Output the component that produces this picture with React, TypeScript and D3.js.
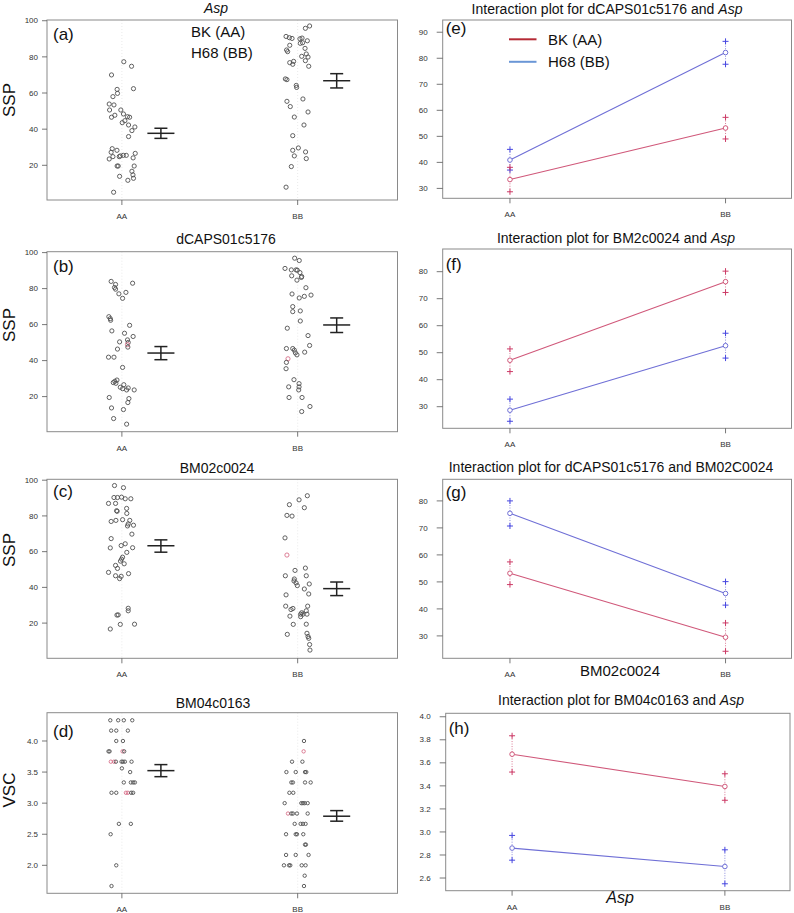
import React from "react";
import * as d3 from "d3";

const categories = ["AA", "BB"];
const legendLabels = ["BK (AA)", "H68 (BB)"];

// ---- strip panels: [value, jitter (category units)] ----
const aAA: [number, number][] = [
  [77.3, 0.011], [74.8, 0.055], [70.0, -0.059], [62.0, -0.027], [62.4, 0.066], [59.8, -0.025],
  [58.0, -0.051], [53.9, -0.072], [53.4, -0.045], [50.6, -0.07], [50.6, -0.006], [47.7, -0.04],
  [46.6, -0.059], [48.4, 0.009], [46.9, 0.032], [46.6, 0.044], [43.6, 0.002], [44.7, 0.017],
  [42.3, 0.038], [41.2, 0.074], [39.2, 0.057], [35.9, 0.038], [29.2, -0.055], [28.3, -0.028],
  [27.2, -0.061], [23.5, -0.072], [24.8, -0.051], [24.8, -0.015], [25.2, -0.009], [25.5, 0.008],
  [25.5, 0.025], [26.6, 0.076], [24.1, 0.064], [19.6, -0.027], [19.6, -0.021], [19.6, 0.07],
  [16.7, 0.057], [14.7, 0.063], [13.9, -0.013], [12.8, 0.066], [11.7, 0.034], [5.1, -0.047],
];
const aBB: [number, number][] = [
  [97.1, 0.068], [95.8, 0.044], [91.3, -0.066], [90.6, -0.047], [90.2, -0.032], [90.0, 0.013],
  [90.4, 0.025], [88.9, 0.055], [83.8, -0.063], [82.9, -0.057], [86.4, -0.045], [87.5, 0.015],
  [87.8, 0.028], [84.7, 0.042], [81.6, 0.049], [80.3, 0.023], [79.9, 0.059], [77.9, 0.044],
  [77.5, -0.023], [76.8, -0.045], [75.9, -0.028], [74.8, 0.063], [67.8, -0.07], [67.4, -0.061],
  [64.2, -0.008], [63.1, -0.006], [56.7, 0.03], [55.4, -0.061], [52.5, -0.042], [49.5, 0.059],
  [46.7, -0.019], [42.3, 0.036], [36.4, -0.028], [28.3, -0.028], [29.6, 0.004], [27.4, 0.045],
  [25.2, -0.019], [23.7, 0.049], [19.3, -0.036], [7.9, -0.066],
];
const aRedAA: number[] = [];
const aRedBB: number[] = [];
const aMean = [37.7, 66.8];
const aLo = [34.9, 62.8];
const aHi = [40.5, 70.7];

const bAA: [number, number][] = [
  [84.0, -0.061], [83.0, 0.061], [82.3, -0.036], [80.6, -0.042], [79.7, -0.036], [77.9, 0.023],
  [77.1, -0.017], [74.6, 0.004], [64.4, -0.074], [63.3, -0.066], [62.4, -0.064], [59.6, 0.044],
  [56.5, -0.057], [55.2, 0.015], [53.4, 0.064], [51.5, 0.032], [50.4, -0.013], [50.1, 0.036],
  [48.9, 0.032], [47.5, 0.034], [46.4, -0.025], [41.9, -0.076], [41.9, -0.045], [36.2, 0.004],
  [29.2, -0.028], [28.5, -0.04], [27.4, -0.034], [27.8, -0.049], [26.6, 0.011], [25.2, -0.009],
  [24.4, 0.004], [24.8, 0.036], [23.7, 0.027], [23.7, 0.07], [18.9, 0.04], [19.5, -0.072],
  [16.7, 0.034], [13.7, -0.059], [12.8, 0.009], [7.8, -0.047], [4.7, 0.027],
];
const bBB: [number, number][] = [
  [96.9, -0.017], [95.6, 0.009], [91.2, -0.072], [90.4, -0.036], [90.4, -0.009], [90.2, -0.002],
  [88.9, 0.013], [87.1, -0.034], [86.7, 0.023], [86.2, 0.021], [84.7, -0.004], [80.5, 0.047],
  [77.0, -0.032], [76.4, 0.076], [75.7, 0.038], [74.8, 0.009], [70.0, -0.028], [67.2, -0.028],
  [67.6, 0.015], [62.0, 0.015], [58.0, -0.059], [53.9, 0.059], [48.4, 0.068], [46.7, -0.064],
  [46.7, -0.028], [45.8, -0.019], [44.7, 0.04], [44.3, -0.013], [43.2, -0.004], [41.0, -0.055],
  [39.0, -0.064], [35.5, -0.066], [29.4, -0.021], [27.2, 0.008], [25.4, -0.051], [25.4, 0.008],
  [23.7, 0.006], [19.5, -0.049], [19.5, 0.025], [14.5, 0.07], [11.7, 0.023],
];
const bRedAA: number[] = [18];
const bRedBB: number[] = [29];
const bMean = [44.2, 59.8];
const bLo = [40.5, 55.6];
const bHi = [47.8, 63.7];

const cAA: [number, number][] = [
  [97.0, -0.042], [95.8, 0.009], [90.3, -0.045], [90.3, -0.025], [90.5, -0.002], [89.6, 0.019],
  [89.6, 0.051], [87.0, -0.076], [87.0, -0.036], [84.2, 0.027], [82.9, -0.03], [82.6, -0.027],
  [81.4, 0.028], [77.9, 0.004], [77.5, -0.034], [76.9, -0.061], [77.5, 0.045], [75.5, 0.036],
  [74.8, 0.066], [74.4, 0.032], [69.8, 0.057], [67.3, -0.061], [64.4, 0.019], [63.4, -0.004],
  [62.1, -0.066], [62.2, 0.061], [59.6, 0.028], [56.9, 0.004], [55.8, -0.002], [54.7, -0.008],
  [53.2, 0.013], [52.3, -0.036], [50.6, -0.025], [48.4, -0.076], [47.7, 0.038], [46.5, -0.036],
  [46.2, -0.004], [44.9, -0.013], [28.3, 0.036], [26.9, 0.036], [24.6, -0.021], [24.5, -0.028],
  [19.3, -0.009], [19.4, 0.072], [16.7, -0.066],
];
const cBB: [number, number][] = [
  [91.3, 0.055], [89.0, 0.008], [86.3, -0.047], [84.6, 0.038], [80.3, -0.061], [79.9, -0.032],
  [67.7, -0.072], [58.1, -0.061], [49.5, -0.015], [50.8, 0.044], [46.5, -0.07], [46.5, 0.049],
  [44.7, -0.019], [43.6, -0.021], [42.5, -0.009], [41.9, 0.066], [41.0, -0.002], [39.1, 0.038],
  [36.3, 0.063], [35.8, -0.066], [29.5, -0.068], [29.5, 0.057], [28.2, -0.027], [27.6, -0.038],
  [26.9, 0.049], [25.8, 0.023], [25.0, 0.017], [25.0, 0.053], [25.0, 0.03], [23.6, 0.017],
  [23.9, -0.044], [19.3, -0.025], [19.4, 0.049], [13.7, -0.059], [14.3, 0.053], [12.5, 0.059],
  [11.5, 0.063], [8.0, 0.068], [4.9, 0.07],
];
const cRedAA: number[] = [];
const cRedBB: number[] = [7];
const cMean = [63.3, 39.3];
const cLo = [59.7, 35.4];
const cHi = [66.6, 43.0];

const dAA: [number, number][] = [
  [4.333, -0.066], [4.333, -0.021], [4.333, 0.011], [4.333, 0.059],
  [4.167, -0.061], [4.167, -0.032], [4.167, 0.034],
  [4.0, -0.032], [4.0, 0.006],
  [3.833, -0.076], [3.833, -0.07], [3.833, 0.004], [3.833, 0.013],
  [3.667, -0.063], [3.667, -0.045], [3.667, -0.034], [3.667, -0.002], [3.667, 0.006], [3.667, 0.017], [3.667, 0.055],
  [3.56, 0.0], [3.5, 0.047],
  [3.333, 0.011], [3.333, 0.051], [3.333, 0.064], [3.333, 0.074],
  [3.167, -0.059], [3.167, -0.032], [3.167, 0.023], [3.167, 0.034], [3.167, 0.053], [3.167, 0.064],
  [2.667, -0.017], [2.667, 0.051], [2.5, -0.064], [2.0, -0.032], [1.667, -0.059],
];
const dBB: [number, number][] = [
  [4.0, 0.036], [3.833, 0.034],
  [3.667, -0.032], [3.667, 0.027],
  [3.5, -0.064], [3.5, -0.011], [3.5, 0.042], [3.5, 0.049],
  [3.333, -0.036], [3.333, -0.027], [3.333, 0.042], [3.333, 0.074],
  [3.167, -0.047], [3.167, -0.025],
  [3.0, -0.074], [3.0, 0.021], [3.0, 0.03], [3.0, 0.04], [3.0, 0.057],
  [2.833, -0.055], [2.833, -0.036], [2.833, -0.027], [2.833, -0.004], [2.833, 0.057],
  [2.667, -0.017], [2.667, 0.017], [2.667, 0.03], [2.667, 0.045],
  [2.5, -0.066], [2.5, -0.011], [2.5, -0.004], [2.5, 0.032],
  [2.333, 0.042], [2.333, 0.047],
  [2.167, -0.066], [2.167, -0.011], [2.167, 0.062],
  [2.0, -0.078], [2.0, -0.049], [2.0, -0.042], [2.0, 0.023], [2.0, 0.045],
  [1.833, 0.04], [1.667, 0.036],
];
const dRedAA: number[] = [11, 13, 14, 28, 29];
const dRedBB: number[] = [1, 19];
const dMean = [3.523, 2.79];
const dLo = [3.426, 2.71];
const dHi = [3.62, 2.88];

const sspTicks = [20, 40, 60, 80, 100];
const vscTicks = [2.0, 2.5, 3.0, 3.5, 4.0];

// ---- interaction panels (mean, lower, upper) per level AA, BB ----
const eRedMean = [33.4, 53.2], eRedLo = [28.7, 49.0], eRedHi = [38.1, 57.3];
const eBlueMean = [40.9, 82.2], eBlueLo = [37.05, 77.7], eBlueHi = [45.0, 86.5];
const fRedMean = [47.2, 76.3], fRedLo = [43.0, 72.3], fRedHi = [51.4, 80.2];
const fBlueMean = [28.7, 52.6], fBlueLo = [24.6, 48.0], fBlueHi = [32.8, 57.2];
const gRedMean = [53.2, 29.5], gRedLo = [49.0, 24.3], gRedHi = [57.4, 34.8];
const gBlueMean = [75.4, 45.7], gBlueLo = [70.7, 41.4], gBlueHi = [80.0, 50.1];
const hRedMean = [3.675, 3.395], hRedLo = [3.52, 3.275], hRedHi = [3.835, 3.505];
const hBlueMean = [2.86, 2.70], hBlueLo = [2.755, 2.55], hBlueHi = [2.97, 2.845];

const eTicks = [30, 40, 50, 60, 70, 80, 90];
const fTicks = [30, 40, 50, 60, 70, 80];
const hTicks = [2.6, 2.8, 3.0, 3.2, 3.4, 3.6, 3.8, 4.0];

const FONT = "'Liberation Sans', Arial, Helvetica, sans-serif";
const BOX = "#8a8a8a";
const TICKC = "#333";
const RED_LINE = "#d0587a";
const BLUE_LINE = "#6f6fd6";
const RED_MARK = "#cc3a66";
const BLUE_MARK = "#4646e0";

type Box = { x0: number; x1: number; y0: number; y1: number };

function Title({ x, y, parts }: { x: number; y: number; parts: [string, boolean][] }) {
  return (
    <text x={x} y={y} textAnchor="middle" fontSize={14} fill="#111" fontFamily={FONT}>
      {parts.map((p, i) => (
        <tspan key={i} fontStyle={p[1] ? "italic" : "normal"}>{p[0]}</tspan>
      ))}
    </text>
  );
}

function YAxis({ y, ticks, fmt, x0, tickLen, gap }: { y: d3.ScaleLinear<number, number>; ticks: number[]; fmt: (v: number) => string; x0: number; tickLen: number; gap: number }) {
  return (
    <g>
      {ticks.map((t) => (
        <g key={t}>
          <line x1={x0 - tickLen} x2={x0} y1={y(t)} y2={y(t)} stroke="#555" strokeWidth={0.8} />
          <text x={x0 - gap} y={y(t)} dy="0.33em" textAnchor="end" fontSize={8} fill={TICKC} fontFamily={FONT}>{fmt(t)}</text>
        </g>
      ))}
    </g>
  );
}

function XAxis({ x, box, labelDy }: { x: d3.ScaleLinear<number, number>; box: Box; labelDy: number }) {
  return (
    <g>
      {categories.map((c, i) => (
        <g key={c}>
          <line x1={x(i + 1)} x2={x(i + 1)} y1={box.y1} y2={box.y1 + 5} stroke="#555" strokeWidth={0.8} />
          <text x={x(i + 1)} y={box.y1 + labelDy} textAnchor="middle" fontSize={8} fill={TICKC} fontFamily={FONT}>{c}</text>
        </g>
      ))}
    </g>
  );
}

function StripPanel(props: {
  box: Box; ydom: [number, number]; ticks: number[]; fmt: (v: number) => string;
  groups: [number, number][][]; reds: number[][]; mean: number[]; lo: number[]; hi: number[];
  r: number; letter: string; letterDy: number; ylab: string; ylabY: number; title: [string, boolean][]; titleX: number; titleY: number;
}) {
  const { box } = props;
  const x = d3.scaleLinear().domain([0.574, 2.568]).range([box.x0, box.x1]);
  const y = d3.scaleLinear().domain(props.ydom).range([box.y1, box.y0]);
  const off = 0.222, hw = 0.077, cw = 0.037;
  return (
    <g>
      <Title x={props.titleX} y={props.titleY} parts={props.title} />
      {categories.map((c, i) => (
        <line key={c} x1={x(i + 1)} x2={x(i + 1)} y1={box.y0} y2={box.y1} stroke="#e4e4e4" strokeDasharray="1,2" strokeWidth={0.8} />
      ))}
      <rect x={box.x0} y={box.y0} width={box.x1 - box.x0} height={box.y1 - box.y0} fill="none" stroke={BOX} strokeWidth={1} />
      <YAxis y={y} ticks={props.ticks} fmt={props.fmt} x0={box.x0} tickLen={5} gap={9} />
      <XAxis x={x} box={box} labelDy={19} />
      {props.groups.map((g, gi) =>
        g.map((p, pi) => (
          <circle key={gi + "-" + pi} cx={x(gi + 1 + p[1])} cy={y(p[0])} r={props.r} fill="none"
            stroke={props.reds[gi].includes(pi) ? "#d8708a" : "#505050"} strokeWidth={0.9} />
        ))
      )}
      {props.mean.map((m, i) => {
        const cx = i + 1 + off;
        return (
          <g key={i} stroke="#222" strokeWidth={1.5}>
            <line x1={x(cx - hw)} x2={x(cx + hw)} y1={y(m)} y2={y(m)} />
            <line x1={x(cx)} x2={x(cx)} y1={y(props.lo[i])} y2={y(props.hi[i])} />
            <line x1={x(cx - cw)} x2={x(cx + cw)} y1={y(props.lo[i])} y2={y(props.lo[i])} />
            <line x1={x(cx - cw)} x2={x(cx + cw)} y1={y(props.hi[i])} y2={y(props.hi[i])} />
          </g>
        );
      })}
      <text x={box.x0 + 6} y={box.y0 + props.letterDy} fontSize={17} fill="#111" fontFamily={FONT}>{props.letter}</text>
      <text transform={`translate(15,${props.ylabY}) rotate(-90)`} textAnchor="middle" fontSize={17} fill="#111" fontFamily={FONT}>{props.ylab}</text>
    </g>
  );
}

function Series({ x, y, mean, lo, hi, line, mark }: { x: d3.ScaleLinear<number, number>; y: d3.ScaleLinear<number, number>; mean: number[]; lo: number[]; hi: number[]; line: string; mark: string }) {
  const path = d3.line<number>().x((_, i) => x(i + 1)).y((d) => y(d))(mean) || "";
  return (
    <g>
      <path d={path} fill="none" stroke={line} strokeWidth={1.1} />
      {mean.map((m, i) => (
        <g key={i}>
          <line x1={x(i + 1)} x2={x(i + 1)} y1={y(lo[i])} y2={y(hi[i])} stroke={line} strokeWidth={0.8} strokeDasharray="1,1.5" />
          <circle cx={x(i + 1)} cy={y(m)} r={2.3} fill="white" stroke={line} strokeWidth={1} />
          {[lo[i], hi[i]].map((v, k) => (
            <g key={k} stroke={mark} strokeWidth={1}>
              <line x1={x(i + 1) - 3} x2={x(i + 1) + 3} y1={y(v)} y2={y(v)} />
              <line x1={x(i + 1)} x2={x(i + 1)} y1={y(v) - 3} y2={y(v) + 3} />
            </g>
          ))}
        </g>
      ))}
    </g>
  );
}

function InterPanel(props: {
  box: Box; ydom: [number, number]; ticks: number[]; fmt: (v: number) => string;
  red: number[][]; blue: number[][]; letter: string; letterDy: number; title: [string, boolean][]; titleX: number; titleY: number;
  children?: React.ReactNode;
}) {
  const { box } = props;
  const x = d3.scaleLinear().domain([0.688, 2.306]).range([box.x0, box.x1]);
  const y = d3.scaleLinear().domain(props.ydom).range([box.y1, box.y0]);
  return (
    <g>
      <Title x={props.titleX} y={props.titleY} parts={props.title} />
      <rect x={box.x0} y={box.y0} width={box.x1 - box.x0} height={box.y1 - box.y0} fill="none" stroke={BOX} strokeWidth={1} />
      <YAxis y={y} ticks={props.ticks} fmt={props.fmt} x0={box.x0} tickLen={6} gap={15} />
      <XAxis x={x} box={box} labelDy={19} />
      <Series x={x} y={y} mean={props.blue[0]} lo={props.blue[1]} hi={props.blue[2]} line={BLUE_LINE} mark={BLUE_MARK} />
      <Series x={x} y={y} mean={props.red[0]} lo={props.red[1]} hi={props.red[2]} line={RED_LINE} mark={RED_MARK} />
      <text x={box.x0 + 3} y={box.y0 + props.letterDy} fontSize={17} fill="#111" fontFamily={FONT}>{props.letter}</text>
      {props.children}
    </g>
  );
}

const f0 = (v: number) => d3.format("d")(v);
const f1 = (v: number) => d3.format(".1f")(v);

export default function App() {
  const L = { x0: 47, x1: 397.5 };
  const R = { x0: 442.7, x1: 791.5 };
  return (
    <svg width={794} height={913} style={{ position: "absolute", left: 0, top: 0, background: "white" }} fontFamily={FONT}>
      <rect width={794} height={913} fill="white" />
      <StripPanel box={{ ...L, y0: 20, y1: 200 }} ydom={[0.8, 100.4]} ticks={sspTicks} fmt={f0}
        groups={[aAA, aBB]} reds={[aRedAA, aRedBB]} mean={aMean} lo={aLo} hi={aHi} r={2.1}
        letter="(a)" letterDy={19.5} ylab="SSP" ylabY={100} title={[["Asp", true]]} titleX={216} titleY={13} />
      <text x={191} y={36.5} fontSize={15} fill="#111" fontFamily={FONT}>{legendLabels[0]}</text>
      <text x={191} y={57.5} fontSize={15} fill="#111" fontFamily={FONT}>{legendLabels[1]}</text>

      <StripPanel box={{ ...L, y0: 251.7, y1: 431.7 }} ydom={[0.5, 100.5]} ticks={sspTicks} fmt={f0}
        groups={[bAA, bBB]} reds={[bRedAA, bRedBB]} mean={bMean} lo={bLo} hi={bHi} r={2.1}
        letter="(b)" letterDy={20} ylab="SSP" ylabY={325} title={[["dCAPS01c5176", false]]} titleX={226} titleY={244} />

      <StripPanel box={{ ...L, y0: 479.3, y1: 658.3 }} ydom={[0.3, 100.5]} ticks={sspTicks} fmt={f0}
        groups={[cAA, cBB]} reds={[cRedAA, cRedBB]} mean={cMean} lo={cLo} hi={cHi} r={2.1}
        letter="(c)" letterDy={18} ylab="SSP" ylabY={550} title={[["BM02c0024", false]]} titleX={217} titleY={472.5} />

      <StripPanel box={{ ...L, y0: 712.7, y1: 893.3 }} ydom={[1.55, 4.455]} ticks={vscTicks} fmt={f1}
        groups={[dAA, dBB]} reds={[dRedAA, dRedBB]} mean={dMean} lo={dLo} hi={dHi} r={1.7}
        letter="(d)" letterDy={24} ylab="VSC" ylabY={790} title={[["BM04c0163", false]]} titleX={213} titleY={707.5} />

      <InterPanel box={{ ...R, y0: 20, y1: 198.3 }} ydom={[26.2, 94.7]} ticks={eTicks} fmt={f0}
        red={[eRedMean, eRedLo, eRedHi]} blue={[eBlueMean, eBlueLo, eBlueHi]}
        letter="(e)" letterDy={13.5} title={[["Interaction plot for dCAPS01c5176 and ", false], ["Asp", true]]} titleX={607} titleY={14}>
        <line x1={509} x2={536.5} y1={39.3} y2={39.3} stroke="#b52a35" strokeWidth={2} />
        <line x1={509} x2={536.5} y1={61.8} y2={61.8} stroke="#6a96d6" strokeWidth={2} />
        <text x={548} y={44.5} fontSize={15} fill="#111" fontFamily={FONT}>{legendLabels[0]}</text>
        <text x={548} y={66.5} fontSize={15} fill="#111" fontFamily={FONT}>{legendLabels[1]}</text>
      </InterPanel>

      <InterPanel box={{ ...R, y0: 249, y1: 428.3 }} ydom={[22, 88.4]} ticks={fTicks} fmt={f0}
        red={[fRedMean, fRedLo, fRedHi]} blue={[fBlueMean, fBlueLo, fBlueHi]}
        letter="(f)" letterDy={21} title={[["Interaction plot for BM2c0024 and ", false], ["Asp", true]]} titleX={616} titleY={242.5} />

      <InterPanel box={{ ...R, y0: 479.3, y1: 658.3 }} ydom={[21.7, 88]} ticks={fTicks} fmt={f0}
        red={[gRedMean, gRedLo, gRedHi]} blue={[gBlueMean, gBlueLo, gBlueHi]}
        letter="(g)" letterDy={19} title={[["Interaction plot for dCAPS01c5176 and BM02C0024", false]]} titleX={611} titleY={472}>
        <text x={620} y={676} textAnchor="middle" fontSize={15} fill="#111" fontFamily={FONT}>BM02c0024</text>
      </InterPanel>

      <InterPanel box={{ x0: 445.7, x1: 790, y0: 713.3, y1: 890.7 }} ydom={[2.49, 4.03]} ticks={hTicks} fmt={f1}
        red={[hRedMean, hRedLo, hRedHi]} blue={[hBlueMean, hBlueLo, hBlueHi]}
        letter="(h)" letterDy={21} title={[["Interaction plot for BM04c0163 and ", false], ["Asp", true]]} titleX={621} titleY={705}>
        <text x={620} y={903} textAnchor="middle" fontSize={16} fontStyle="italic" fill="#111" fontFamily={FONT}>Asp</text>
      </InterPanel>
    </svg>
  );
}
